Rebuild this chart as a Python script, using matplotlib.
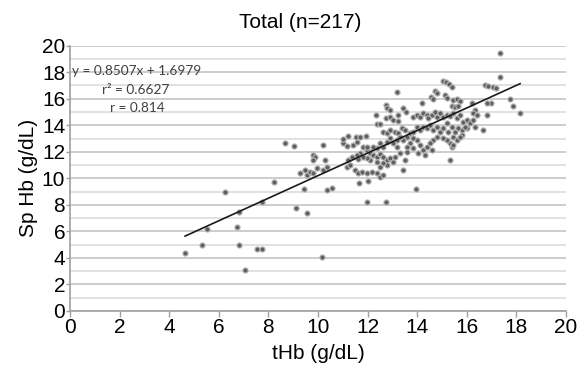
import matplotlib
matplotlib.use("Agg")
import matplotlib.pyplot as plt
from matplotlib.ticker import MultipleLocator

title = "Total (n=217)"
x_label = "tHb (g/dL)"
y_label = "Sp Hb (g/dL)"
eq_lines = ["y = 0.8507x + 1.6979", "r² = 0.6627", "r = 0.814"]
slope, intercept = 0.8507, 1.6979

thb = [17.34, 17.34, 16.74, 16.87, 17.05, 17.18, 17.74, 17.85, 18.15, 16.96,
       16.80, 16.83, 16.64, 16.20, 16.33, 16.24, 16.40, 15.03, 15.16, 15.30,
       15.39, 14.72, 14.79, 14.55, 14.65, 15.12, 15.19, 15.46, 15.59, 15.73,
       15.39, 15.53, 15.66, 13.20, 14.18, 12.74, 12.80, 12.91, 13.44, 13.55,
       12.34, 12.37, 12.50, 12.74, 12.91, 13.04, 13.24, 13.24, 13.85, 13.98,
       14.12, 14.25, 14.38, 14.45, 14.59, 14.72, 14.79, 14.92, 15.06, 15.19,
       15.32, 15.46, 15.59, 15.73, 15.86, 16.00, 16.13, 16.27, 16.33, 16.00,
       15.80, 12.64, 12.77, 12.91, 13.11, 13.24, 13.38, 13.51, 13.58, 13.71,
       13.85, 13.98, 14.12, 14.25, 14.38, 14.52, 14.65, 14.79, 14.92, 15.06,
       15.19, 15.26, 15.39, 15.53, 15.66, 15.80, 15.93, 15.46, 15.59, 15.73,
       15.32, 15.39, 15.19, 15.06, 14.79, 14.65, 14.52, 14.38, 14.25, 14.12,
       13.98, 13.85, 13.71, 13.58, 13.44, 13.31, 13.17, 13.04, 12.91, 12.77,
       12.64, 12.50, 12.37, 12.23, 12.10, 11.96, 11.83, 11.69, 11.02, 11.16,
       11.40, 11.59, 10.99, 11.22, 11.53, 11.69, 11.94, 11.99, 12.10, 12.23,
       12.37, 12.50, 12.64, 12.77, 12.91, 13.04, 12.77, 12.64, 12.50, 12.37,
       12.10, 11.96, 11.83, 11.63, 11.56, 11.36, 11.22, 11.16, 11.29, 11.49,
       11.63, 11.76, 11.96, 12.16, 12.37, 12.50, 12.64, 13.44, 13.51, 13.11,
       13.17, 13.31, 13.58, 13.85, 14.05, 14.32, 14.58, 15.32, 15.46, 10.21,
       8.67, 9.03, 9.79, 9.88, 9.81, 10.28, 9.27, 9.54, 9.68, 9.81,
       9.95, 10.21, 10.35, 9.48, 4.64, 5.33, 5.51, 6.25, 6.75, 6.81,
       6.83, 7.06, 7.55, 7.76, 7.74, 8.23, 9.11, 9.44, 9.54, 10.35,
       10.55, 10.15, 11.67, 12.03, 11.96, 12.74, 13.94]

sphb = [19.47, 17.66, 17.03, 16.96, 16.91, 16.78, 15.95, 15.45, 14.95, 15.70,
        15.65, 14.77, 13.64, 15.65, 15.15, 14.90, 14.77, 17.36, 17.28, 17.11,
        16.91, 16.61, 16.46, 16.15, 15.95, 16.28, 16.03, 15.90, 15.95, 15.85,
        15.45, 15.40, 15.45, 16.53, 15.70, 15.53, 15.27, 15.15, 15.27, 15.02,
        14.77, 14.09, 14.09, 14.52, 14.65, 14.39, 14.77, 14.34, 14.65, 14.77,
        14.60, 14.90, 14.77, 14.52, 14.77, 15.02, 14.65, 14.90, 14.65, 14.77,
        14.70, 14.90, 14.52, 14.77, 14.27, 14.39, 14.14, 14.39, 13.89, 13.77,
        13.64, 13.52, 13.39, 13.64, 13.52, 13.39, 13.77, 13.64, 13.14, 13.39,
        13.52, 13.89, 13.64, 13.89, 13.77, 14.02, 13.64, 13.89, 13.52, 13.77,
        14.14, 13.52, 13.89, 13.52, 13.77, 13.26, 13.89, 13.14, 12.89, 13.14,
        12.64, 12.38, 12.89, 13.01, 13.14, 12.89, 12.64, 12.38, 12.13, 12.51,
        12.89, 13.01, 12.64, 12.38, 12.89, 13.14, 12.89, 12.64, 13.01, 12.76,
        12.38, 12.64, 12.26, 12.38, 12.01, 12.13, 12.38, 11.88, 12.64, 12.43,
        12.51, 12.76, 12.94, 13.19, 13.14, 13.09, 13.19, 12.38, 11.88, 11.76,
        11.63, 11.83, 11.63, 11.38, 11.51, 11.25, 11.00, 11.13, 10.88, 11.25,
        11.38, 11.51, 11.63, 11.43, 11.76, 11.63, 11.38, 10.88, 11.00, 10.63,
        10.38, 10.50, 10.38, 10.50, 10.38, 10.12, 10.25, 10.63, 11.38, 11.63,
        12.38, 11.88, 12.01, 12.26, 11.88, 11.76, 12.13, 11.38, 12.51, 12.51,
        12.64, 12.46, 11.76, 11.63, 11.38, 11.38, 10.38, 10.25, 10.50, 10.38,
        10.75, 10.63, 10.88, 10.63, 4.37, 4.97, 6.15, 8.99, 6.30, 7.48,
        4.97, 3.09, 4.65, 4.70, 8.24, 9.75, 7.74, 9.17, 7.41, 9.12,
        9.25, 4.05, 9.62, 9.80, 8.24, 8.24, 9.17]

x_ticks = [0, 2, 4, 6, 8, 10, 12, 14, 16, 18, 20]
y_ticks = [0, 2, 4, 6, 8, 10, 12, 14, 16, 18, 20]

narrow = ["Liberation Sans", "DejaVu Sans"]
calib = ["Lato", "DejaVu Sans"]

fig = plt.figure(figsize=(5.82, 3.68), dpi=100)
ax = fig.add_axes([0.1203, 0.1549, 0.8522, 0.7209])
ax.set_xlim(0, 20)
ax.set_ylim(0, 20)

ax.yaxis.set_minor_locator(MultipleLocator(1))
ax.grid(axis="y", which="major", color="#cdcdcd", lw=1.4, zorder=0)
ax.grid(axis="y", which="minor", color="#dedede", lw=1.3, zorder=0)
ax.set_axisbelow(True)

ax.scatter(thb, sphb, s=14, c="#606060", edgecolors="#b8b8b8", linewidths=0.8, zorder=3)

xmin, xmax = min(thb), max(thb)
ax.plot([xmin, xmax], [slope * xmin + intercept, slope * xmax + intercept],
        color="#1a1a1a", lw=1.2, zorder=4)

ax.set_xticks(x_ticks)
ax.set_yticks(y_ticks)
ax.set_xticklabels([str(t) for t in x_ticks], family=narrow, fontsize=15)
ax.set_yticklabels([str(t) for t in y_ticks], family=narrow, fontsize=15)
ax.tick_params(axis="x", which="major", color="#a0a0a0", length=4, width=1, pad=1)
ax.tick_params(axis="y", which="major", color="#a0a0a0", length=3, width=1, pad=0.5)
ax.tick_params(axis="y", which="minor", length=0)
for s in ["top", "right"]:
    ax.spines[s].set_visible(False)
for s in ["left", "bottom"]:
    ax.spines[s].set_color("#a0a0a0")
    ax.spines[s].set_linewidth(1.2)

ax.set_xlabel(x_label, family=narrow, fontsize=15, labelpad=5)
ax.set_ylabel(y_label, family=narrow, fontsize=15, labelpad=3)
fig.text(300 / 582, 1 - 22 / 368, title, family=narrow, fontsize=15,
         ha="center", va="center")

ax.text(0.08, 18.1, eq_lines[0], family=calib, fontsize=9.8, color="#404040",
        ha="left", va="center", zorder=5)
ax.text(2.66, 16.65, eq_lines[1], family=calib, fontsize=9.8, color="#404040",
        ha="center", va="center", zorder=5)
ax.text(2.72, 15.3, eq_lines[2], family=calib, fontsize=9.8, color="#404040",
        ha="center", va="center", zorder=5)

fig.savefig("out.png", dpi=100)
